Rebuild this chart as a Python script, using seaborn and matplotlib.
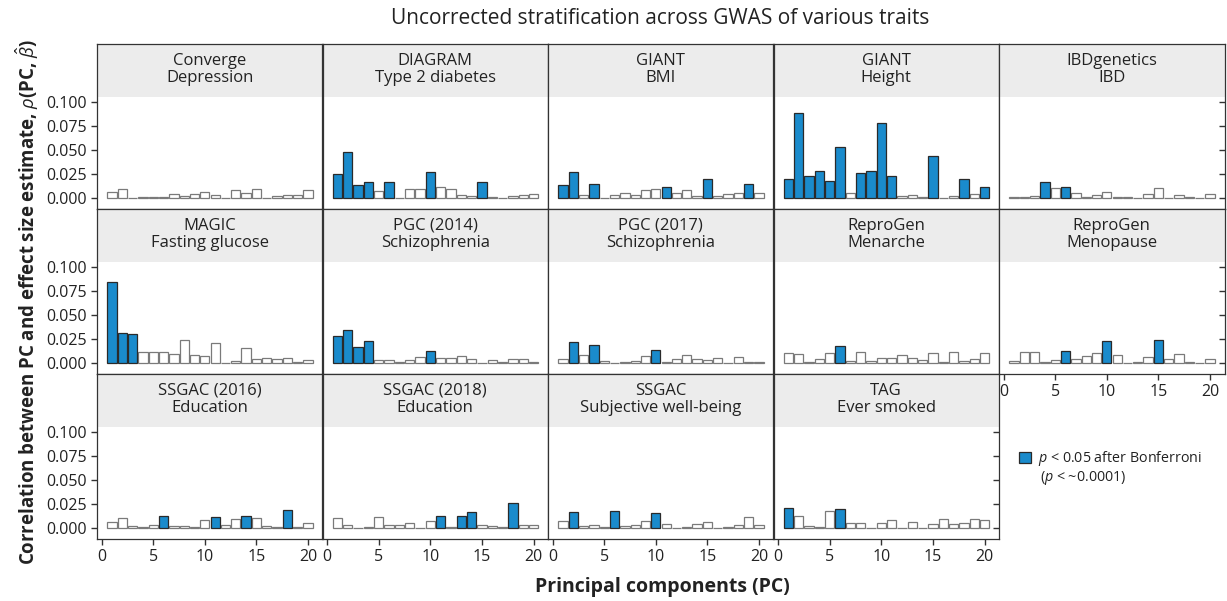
import numpy as np
import pandas as pd
import matplotlib
matplotlib.use("Agg")
import matplotlib.pyplot as plt
import matplotlib.transforms as mtransforms
from matplotlib.patches import Patch, Rectangle
import seaborn as sns

# ---------------- data ----------------
consortia = ["Converge", "DIAGRAM", "GIANT", "GIANT", "IBDgenetics",
             "MAGIC", "PGC (2014)", "PGC (2017)", "ReproGen", "ReproGen",
             "SSGAC (2016)", "SSGAC (2018)", "SSGAC", "TAG"]
traits = ["Depression", "Type 2 diabetes", "BMI", "Height", "IBD",
          "Fasting glucose", "Schizophrenia", "Schizophrenia", "Menarche", "Menopause",
          "Education", "Education", "Subjective well-being", "Ever smoked"]
pcs = list(range(1, 21))

converge_depression = [0.0069, 0.0093, 0.0003, 0.0014, 0.0014, 0.0017, 0.0048, 0.0024, 0.0045, 0.0069,
                       0.0031, 0.0002, 0.0083, 0.0055, 0.0093, 0.0002, 0.0024, 0.0038, 0.0031, 0.0083]
diagram_t2d = [0.0252, 0.0483, 0.0135, 0.0172, 0.0072, 0.0169, 0.0007, 0.0100, 0.0093, 0.0269,
               0.0114, 0.0100, 0.0038, 0.0021, 0.0172, 0.0010, 0.0007, 0.0024, 0.0038, 0.0048]
giant_bmi = [0.0138, 0.0269, 0.0031, 0.0145, 0.0003, 0.0038, 0.0052, 0.0031, 0.0086, 0.0097,
             0.0121, 0.0052, 0.0086, 0.0021, 0.0197, 0.0028, 0.0048, 0.0052, 0.0145, 0.0055]
giant_height = [0.0197, 0.0880, 0.0228, 0.0286, 0.0179, 0.0528, 0.0052, 0.0259, 0.0283, 0.0780,
                0.0228, 0.0021, 0.0038, 0.0010, 0.0435, 0.0007, 0.0028, 0.0197, 0.0048, 0.0121]
ibd = [0.0014, 0.0010, 0.0028, 0.0166, 0.0103, 0.0121, 0.0059, 0.0010, 0.0031, 0.0062,
       0.0010, 0.0010, 0.0007, 0.0041, 0.0103, 0.0002, 0.0038, 0.0010, 0.0007, 0.0041]
magic_glucose = [0.0838, 0.0317, 0.0304, 0.0117, 0.0117, 0.0114, 0.0097, 0.0238, 0.0090, 0.0079,
                 0.0207, 0.0002, 0.0024, 0.0155, 0.0045, 0.0052, 0.0041, 0.0052, 0.0017, 0.0038]
pgc2014_scz = [0.0283, 0.0342, 0.0169, 0.0235, 0.0038, 0.0034, 0.0010, 0.0038, 0.0066, 0.0124,
               0.0055, 0.0052, 0.0072, 0.0041, 0.0003, 0.0031, 0.0017, 0.0041, 0.0041, 0.0010]
pgc2017_scz = [0.0045, 0.0221, 0.0086, 0.0190, 0.0028, 0.0003, 0.0014, 0.0021, 0.0072, 0.0138,
               0.0017, 0.0048, 0.0083, 0.0045, 0.0031, 0.0059, 0.0003, 0.0062, 0.0010, 0.0010]
reprogen_menarche = [0.0110, 0.0097, 0.0010, 0.0045, 0.0110, 0.0179, 0.0024, 0.0114, 0.0021, 0.0055,
                     0.0055, 0.0083, 0.0055, 0.0038, 0.0107, 0.0017, 0.0117, 0.0021, 0.0048, 0.0107]
reprogen_menopause = [0.0028, 0.0114, 0.0121, 0.0010, 0.0031, 0.0124, 0.0048, 0.0072, 0.0110, 0.0235,
                      0.0086, 0.0002, 0.0010, 0.0062, 0.0238, 0.0041, 0.0097, 0.0010, 0.0003, 0.0045]
ssgac2016_edu = [0.0069, 0.0103, 0.0021, 0.0010, 0.0038, 0.0128, 0.0021, 0.0021, 0.0010, 0.0090,
                 0.0121, 0.0038, 0.0097, 0.0124, 0.0103, 0.0021, 0.0010, 0.0193, 0.0017, 0.0052]
ssgac2018_edu = [0.0110, 0.0038, 0.0002, 0.0010, 0.0114, 0.0038, 0.0038, 0.0055, 0.0002, 0.0072,
                 0.0128, 0.0010, 0.0128, 0.0166, 0.0038, 0.0021, 0.0017, 0.0259, 0.0038, 0.0038]
ssgac_swb = [0.0072, 0.0166, 0.0028, 0.0038, 0.0010, 0.0176, 0.0028, 0.0038, 0.0079, 0.0155,
             0.0045, 0.0002, 0.0010, 0.0045, 0.0062, 0.0002, 0.0010, 0.0038, 0.0114, 0.0031]
tag_smoked = [0.0214, 0.0124, 0.0028, 0.0010, 0.0176, 0.0197, 0.0059, 0.0055, 0.0002, 0.0052,
              0.0086, 0.0002, 0.0062, 0.0002, 0.0048, 0.0097, 0.0041, 0.0055, 0.0097, 0.0083]

values = [converge_depression, diagram_t2d, giant_bmi, giant_height, ibd,
          magic_glucose, pgc2014_scz, pgc2017_scz, reprogen_menarche, reprogen_menopause,
          ssgac2016_edu, ssgac2018_edu, ssgac_swb, tag_smoked]

significant_pcs = [[], [1, 2, 3, 4, 6, 10, 15], [1, 2, 4, 11, 15, 19],
                   [1, 2, 3, 4, 5, 6, 8, 9, 10, 11, 15, 18, 20], [4, 6],
                   [1, 2, 3], [1, 2, 3, 4, 10], [2, 4, 10], [6], [6, 10, 15],
                   [6, 11, 14, 18], [11, 13, 14, 18], [2, 6, 10], [1, 6]]

y_ticks = [0.000, 0.025, 0.050, 0.075, 0.100]
x_ticks = [0, 5, 10, 15, 20]

# ---------------- style ----------------
sns.set_theme(style="white")
plt.rcParams["font.family"] = ["Open Sans", "DejaVu Sans"]
plt.rcParams["mathtext.fontset"] = "custom"
plt.rcParams["mathtext.rm"] = "Open Sans"
plt.rcParams["mathtext.it"] = "Open Sans:italic"
plt.rcParams["mathtext.bf"] = "Open Sans:bold"

BLUE = "#1a8bcc"
STRIP = "#ececec"
FRAME = "#333333"
TEXT = "#222222"

W, H = 1227, 601
fig = plt.figure(figsize=(W / 100, H / 100), dpi=100)

col_left = [97, 322.5, 548, 773.5, 999]
col_w = 225.5
row_top = [44, 209, 374]
panel_h = 165
strip_h = 53
plot_h = panel_h - strip_h

y_lo = -0.0111
y_plot_top = 0.1049
px_per_unit = plot_h / (y_plot_top - y_lo)
y_hi = y_plot_top + strip_h / px_per_unit

for i in range(14):
    r, c = divmod(i, 5)
    ax = fig.add_axes([col_left[c] / W, 1 - (row_top[r] + panel_h) / H, col_w / W, panel_h / H])
    df = pd.DataFrame({
        "pc": pcs,
        "rho": values[i],
        "sig": ["sig" if p in significant_pcs[i] else "ns" for p in pcs],
    })
    sns.barplot(data=df, x="pc", y="rho", hue="sig", hue_order=["ns", "sig"],
                palette={"ns": "white", "sig": BLUE}, native_scale=True, dodge=False,
                width=0.9, errorbar=None, legend=False, ax=ax, linewidth=0.9,
                saturation=1)
    for patch in ax.patches:
        fc = patch.get_facecolor()
        if fc[0] > 0.9 and fc[1] > 0.9 and fc[2] > 0.9:
            patch.set_edgecolor("#7a7a7a")
        else:
            patch.set_edgecolor("#2a2a2a")
    ax.set_xlim(-0.45, 21.4)
    ax.set_ylim(y_lo, y_hi)
    ax.set_xlabel("")
    ax.set_ylabel("")
    trans = mtransforms.blended_transform_factory(ax.transAxes, ax.transData)
    ax.add_patch(Rectangle((0, y_plot_top), 1, y_hi - y_plot_top, transform=trans,
                           facecolor=STRIP, edgecolor="none", zorder=0.5))
    ax.text(0.5, (y_plot_top + y_hi) / 2 + 0.001, f"{consortia[i]}\n{traits[i]}",
            transform=trans, ha="center", va="center", fontsize=12,
            color=TEXT, linespacing=1.1)
    for s in ax.spines.values():
        s.set_color(FRAME)
        s.set_linewidth(0.9)
        s.set_visible(True)
    # y ticks
    ax.set_yticks(y_ticks)
    if c == 0:
        ax.set_yticklabels([f"{t:.3f}" for t in y_ticks])
        ax.tick_params(axis="y", left=True, direction="out", length=4, width=1.0,
                       color=FRAME, labelsize=11.5, pad=3, labelcolor=TEXT)
    else:
        ax.tick_params(axis="y", left=False, labelleft=False)
    last_in_row = (r < 2 and c == 4) or (r == 2 and c == 3)
    if last_in_row:
        ax.tick_params(axis="y", right=True, direction="in", length=4, width=1.0,
                       color=FRAME, labelright=False)
    # x ticks
    ax.set_xticks(x_ticks)
    if r == 2 or i == 9:
        ax.set_xticklabels([str(t) for t in x_ticks])
        ax.tick_params(axis="x", bottom=True, direction="out", length=4, width=1.0,
                       color=FRAME, labelsize=11.5, pad=3, labelcolor=TEXT)
    else:
        ax.tick_params(axis="x", bottom=False, labelbottom=False)
    ax.grid(False)

# titles and axis labels
fig.text(660 / W, 1 - 19 / H, "Uncorrected stratification across GWAS of various traits",
         ha="center", va="center", fontsize=15, color=TEXT)
fig.text(662 / W, 1 - 587 / H, "Principal components (PC)", ha="center", va="center",
         fontsize=14, fontweight="bold", color=TEXT)
fig.text(27 / W, 1 - 302 / H,
         r"Correlation between PC and effect size estimate, $\rho$(PC, $\hat{\beta}$)",
         ha="center", va="center", rotation=90, fontsize=13.4, fontweight="bold",
         color=TEXT)

# legend
leg = fig.legend(handles=[Patch(facecolor=BLUE, edgecolor="#2a2a2a", linewidth=0.9)],
                 labels=[r"$p$ < 0.05 after Bonferroni"], loc="center left",
                 bbox_to_anchor=(1019 / W, 1 - 459 / H), frameon=False, fontsize=10.3,
                 handlelength=0.85, handleheight=0.85, handletextpad=0.5, borderaxespad=0,
                 borderpad=0)
for t in leg.get_texts():
    t.set_color(TEXT)
fig.text(1040 / W, 1 - 478 / H, r"($p$ < ~0.0001)", ha="left", va="center",
         fontsize=10.3, color=TEXT)

fig.savefig("out.png", dpi=100)
